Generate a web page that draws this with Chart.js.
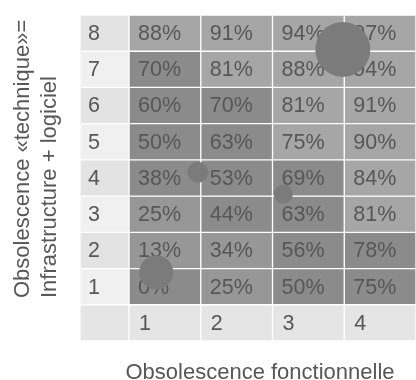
<!DOCTYPE html>
<html>
<head>
<meta charset="utf-8">
<script src="https://cdn.jsdelivr.net/npm/chart.js@4/dist/chart.umd.min.js"></script>
<style>
  html, body { margin: 0; padding: 0; background: #ffffff; }
  #wrap { width: 416px; height: 380px; }
</style>
</head>
<body>
<div id="wrap"><canvas id="c" width="416" height="380"></canvas></div>
<script>
// Functional obsolescence levels (columns) and technical obsolescence levels (rows)
const colLabels = ['1', '2', '3', '4'];
const rowLabels = ['1', '2', '3', '4', '5', '6', '7', '8'];

// Overall obsolescence (%) per row, row 1 first, columns 1..4
const pct = [
  [0, 25, 50, 75],
  [13, 34, 56, 78],
  [25, 44, 63, 81],
  [38, 53, 69, 84],
  [50, 63, 75, 90],
  [60, 70, 81, 91],
  [70, 81, 88, 94],
  [88, 91, 94, 97]
];

// Zone of each cell: 0 = upper zone, 1 = transition, 2 = lower zone
const zone = [
  [2, 1, 2, 2],
  [1, 1, 2, 2],
  [1, 2, 2, 0],
  [2, 2, 2, 0],
  [2, 2, 0, 0],
  [2, 2, 0, 0],
  [2, 0, 0, 0],
  [0, 0, 0, 0]
];

// Applications placed on the grid (functional, technical, size)
const appX = [0.88, 1.46, 2.65, 3.48];
const appY = [1.40, 4.16, 3.55, 7.55];
const appR = [17, 10.5, 9.5, 27.5];

// ---- styling ----
const zoneColors = ['#a6a6a6', '#979797', '#8b8b8b'];
const headerColors = ['#f0f0f0', '#e3e3e3'];
const cornerColor = '#e5e5e5';
const textColor = '#575757';
const fontFamily = '"Liberation Sans", Arial, Helvetica, sans-serif';
const xMin = -0.183;

const rowsWithAxis = [0].concat(rowLabels.map((_, i) => i + 1)); // 0 = axis-label row

function cellBar(lo, hi, colorFor) {
  return {
    type: 'bar',
    indexAxis: 'y',
    data: rowsWithAxis.map(r => ({ y: r, x: [lo, hi] })),
    backgroundColor: rowsWithAxis.map(r => colorFor(r)),
    borderColor: '#ffffff',
    borderWidth: 1,
    borderSkipped: false,
    categoryPercentage: 1,
    barPercentage: 1,
    grouped: false,
    order: 1
  };
}

const datasets = [];
// label column (row numbers)
datasets.push(cellBar(xMin, 0.5, r => r === 0 ? cornerColor : headerColors[r % 2 === 0 ? 1 : 0]));
// data columns
colLabels.forEach((_, ci) => {
  const c = ci + 1;
  datasets.push(cellBar(c - 0.5, c + 0.5, r => r === 0 ? cornerColor : zoneColors[zone[r - 1][ci]]));
});
// applications
datasets.push({
  type: 'bubble',
  data: appX.map((x, i) => ({ x: x, y: appY[i], r: appR[i] })),
  backgroundColor: '#7b7b7b',
  borderWidth: 0,
  hoverRadius: 0,
  clip: false,
  order: 0
});

const cellText = {
  id: 'cellText',
  beforeDatasetDraw(chart, args) {
    if (args.meta.type !== 'bubble') return;
    const { ctx } = chart;
    const x = chart.scales.x, y = chart.scales.y;
    ctx.save();
    ctx.font = '21.5px ' + fontFamily;
    ctx.fillStyle = textColor;
    ctx.textAlign = 'left';
    ctx.textBaseline = 'middle';
    // row numbers
    rowLabels.forEach((lab, i) => {
      ctx.fillText(lab, x.getPixelForValue(xMin) + 8, y.getPixelForValue(i + 1) + 1);
    });
    // column numbers
    colLabels.forEach((lab, i) => {
      ctx.fillText(lab, x.getPixelForValue(i + 0.5) + 10, y.getPixelForValue(0) + 1);
    });
    // percentages
    pct.forEach((row, ri) => {
      row.forEach((v, ci) => {
        ctx.fillText(v + '%', x.getPixelForValue(ci + 0.5) + 9, y.getPixelForValue(ri + 1) + 1);
      });
    });
    ctx.restore();
  },
  afterDraw(chart) {
    const { ctx } = chart;
    ctx.save();
    ctx.font = '22px ' + fontFamily;
    ctx.fillStyle = textColor;
    ctx.textBaseline = 'alphabetic';
    ctx.textAlign = 'center';
    ctx.fillText('Obsolescence fonctionnelle', 260, 379);
    ctx.translate(0, 298);
    ctx.rotate(-Math.PI / 2);
    ctx.textAlign = 'left';
    ctx.fillText('Obsolescence «technique»=', 0, 28.5);
    ctx.fillText('Infrastructure + logiciel', 0, 55.5);
    ctx.restore();
  }
};

new Chart(document.getElementById('c'), {
  type: 'bar',
  data: { datasets: datasets },
  options: {
    responsive: false,
    animation: false,
    devicePixelRatio: 1,
    indexAxis: 'y',
    layout: { autoPadding: false, padding: { left: 80, right: 0, top: 15, bottom: 39 } },
    scales: {
      x: { type: 'linear', min: xMin, max: 4.5, offset: false, display: false },
      y: {
        type: 'linear', min: -0.5, max: 8.5, offset: false, display: false,
        afterBuildTicks: axis => { axis.ticks = rowsWithAxis.map(v => ({ value: v })); }
      }
    },
    plugins: {
      legend: { display: false },
      tooltip: { enabled: false },
      title: { display: false }
    }
  },
  plugins: [cellText]
});
</script>
</body>
</html>
